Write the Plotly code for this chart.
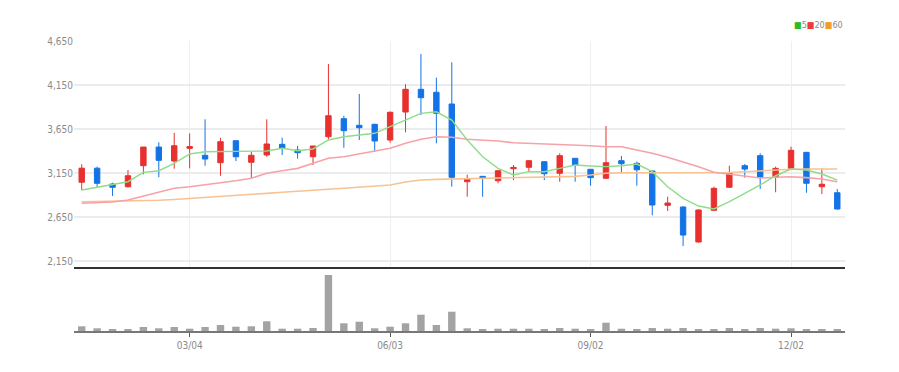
import plotly.graph_objects as go

dates = ["2024-01-15", "2024-01-22", "2024-01-29", "2024-02-05", "2024-02-12", "2024-02-19",
         "2024-02-26", "2024-03-04", "2024-03-11", "2024-03-18", "2024-03-25", "2024-04-01",
         "2024-04-08", "2024-04-15", "2024-04-22", "2024-04-29", "2024-05-06", "2024-05-13",
         "2024-05-20", "2024-05-27", "2024-06-03", "2024-06-10", "2024-06-17", "2024-06-24",
         "2024-07-01", "2024-07-08", "2024-07-15", "2024-07-22", "2024-07-29", "2024-08-05",
         "2024-08-12", "2024-08-19", "2024-08-26", "2024-09-02", "2024-09-09", "2024-09-16",
         "2024-09-23", "2024-09-30", "2024-10-07", "2024-10-14", "2024-10-21", "2024-10-28",
         "2024-11-04", "2024-11-11", "2024-11-18", "2024-11-25", "2024-12-02", "2024-12-09",
         "2024-12-16", "2024-12-23"]

open_ = [3045, 3205, 3025, 2994, 3233, 3445, 3286, 3430, 3351, 3267, 3517, 3272, 3355, 3476, 3411,
         3335, 3562, 3767, 3692, 3703, 3525, 3843, 4101, 4067, 3934, 3051, 3112, 3062, 3199, 3215,
         3278, 3147, 3317, 3192, 3090, 3290, 3260, 3173, 2783, 2764, 2366, 2726, 2988, 3233, 3347,
         3101, 3203, 3385, 2994, 2926]
high = [3250, 3222, 3040, 3184, 3445, 3499, 3606, 3600, 3760, 3551, 3517, 3392, 3760, 3551, 3457,
        3457, 4389, 3801, 4048, 3710, 3850, 4158, 4502, 4233, 4408, 3131, 3112, 3185, 3241, 3295,
        3285, 3374, 3320, 3195, 3684, 3343, 3280, 3175, 2881, 2770, 2735, 2994, 3233, 3252, 3374,
        3222, 3449, 3390, 3203, 2968]
low = [2955, 2988, 2889, 2985, 3135, 3101, 3199, 3203, 3233, 3119, 3286, 3090, 3335, 3355, 3313,
       3241, 3533, 3437, 3525, 3392, 3494, 3612, 3809, 3487, 2994, 2881, 2881, 3033, 3070, 3165,
       3070, 3051, 3051, 3006, 3085, 3147, 3006, 2669, 2718, 2320, 2360, 2720, 2985, 3097, 2968,
       2931, 3200, 2926, 2911, 2735]
close = [3205, 3033, 2988, 3119, 3445, 3294, 3460, 3450, 3309, 3506, 3335, 3351, 3480, 3431, 3381,
         3457, 3801, 3631, 3665, 3514, 3840, 4101, 4006, 3828, 3101, 3085, 3090, 3176, 3214, 3290,
         3142, 3347, 3241, 3097, 3267, 3256, 3187, 2786, 2809, 2445, 2730, 2976, 3153, 3195, 3101,
         3203, 3408, 3033, 3022, 2741]

ma5 = [2957, 2991, 3022, 3051, 3158, 3176, 3260, 3366, 3392, 3392, 3400, 3392, 3400, 3431, 3403,
       3423, 3525, 3562, 3582, 3601, 3676, 3752, 3828, 3846, 3752, 3525, 3335, 3203, 3127, 3165,
       3165, 3203, 3241, 3230, 3222, 3233, 3252, 3165, 2994, 2862, 2775, 2741, 2824, 2919, 3014,
       3119, 3195, 3184, 3139, 3070]
ma20 = [2806, 2809, 2820, 2843, 2889, 2931, 2976, 2994, 3014, 3040, 3062, 3090, 3147, 3176, 3203,
        3260, 3317, 3335, 3366, 3392, 3431, 3487, 3533, 3562, 3556, 3533, 3525, 3514, 3494, 3487,
        3480, 3480, 3468, 3460, 3449, 3449, 3411, 3374, 3328, 3278, 3222, 3158, 3139, 3116, 3093,
        3101, 3108, 3097, 3082, 3051]
ma60 = [2824, 2826, 2828, 2832, 2835, 2840, 2849, 2862, 2874, 2885, 2897, 2908, 2919, 2931, 2940,
        2953, 2965, 2976, 2988, 2999, 3014, 3048, 3070, 3078, 3082, 3085, 3090, 3093, 3097, 3101,
        3105, 3108, 3112, 3127, 3147, 3153, 3153, 3153, 3153, 3153, 3153, 3153, 3156, 3165, 3176,
        3184, 3192, 3195, 3195, 3195]

volume = [470000, 270000, 200000, 130000, 400000, 270000, 400000, 230000, 400000, 600000,
          430000, 470000, 970000, 230000, 230000, 300000, 5600000, 770000, 930000, 270000,
          430000, 770000, 1630000, 600000, 1930000, 270000, 200000, 230000, 230000, 230000,
          130000, 300000, 230000, 200000, 830000, 230000, 200000, 300000, 230000, 300000,
          170000, 200000, 300000, 130000, 300000, 230000, 270000, 200000, 130000, 130000]

y_ticks = [2150, 2650, 3150, 3650, 4150, 4650]
x_ticks = ["2024-03-04", "2024-06-03", "2024-09-02", "2024-12-02"]
x_ticktext = ["03/04", "06/03", "09/02", "12/02"]

RED = "#e8302f"
BLUE = "#1373e6"
FONT = "Liberation Sans Narrow, DejaVu Sans Condensed, Arial Narrow, Roboto, sans-serif"

fig = go.Figure()

fig.add_trace(go.Candlestick(
    x=dates, open=open_, high=high, low=low, close=close,
    increasing=dict(line=dict(color=RED, width=1), fillcolor=RED),
    decreasing=dict(line=dict(color=BLUE, width=1), fillcolor=BLUE),
    whiskerwidth=0, xaxis="x", yaxis="y", showlegend=False, name="price"))

fig.add_trace(go.Scatter(x=dates, y=ma60, mode="lines", line=dict(color="#f8c293", width=1.6),
                         xaxis="x", yaxis="y", showlegend=False, name="60"))
fig.add_trace(go.Scatter(x=dates, y=ma20, mode="lines", line=dict(color="#f5a3a6", width=1.6),
                         xaxis="x", yaxis="y", showlegend=False, name="20"))
fig.add_trace(go.Scatter(x=dates, y=ma5, mode="lines", line=dict(color="#8fdc8a", width=1.4),
                         xaxis="x", yaxis="y", showlegend=False, name="5"))

fig.add_trace(go.Bar(x=dates, y=volume, marker=dict(color="#a3a3a3", line=dict(width=0)),
                     xaxis="x2", yaxis="y2", showlegend=False, name="vol"))

xrange = ["2024-01-11 12:00", "2024-12-26 12:00"]
split = 64 / 290

fig.update_layout(
    width=891, height=364,
    margin=dict(l=66, r=54, t=33, b=41),
    paper_bgcolor="white", plot_bgcolor="white",
    boxgap=0.5, bargap=0.52,
    xaxis=dict(type="date", range=xrange, domain=[0, 1], anchor="y",
               tickvals=x_ticks, showticklabels=False, showgrid=True,
               gridcolor="#efefef", gridwidth=1, ticks="",
               showline=True, linecolor="#333333", linewidth=2,
               rangeslider=dict(visible=False), zeroline=False),
    yaxis=dict(domain=[split, 1], range=[2082, 4650], tickvals=y_ticks,
               tickformat=",", showgrid=True, gridcolor="#ececec", gridwidth=1.5,
               zeroline=False, ticks="", showline=False,
               tickfont=dict(family=FONT, size=10, color="#8a8a8a")),
    xaxis2=dict(type="date", range=xrange, domain=[0, 1], anchor="y2", matches="x",
                tickvals=x_ticks, ticktext=x_ticktext, showgrid=False,
                ticks="outside", ticklen=4, tickcolor="#555555", tickwidth=1,
                showline=True, linecolor="#777777", linewidth=2, zeroline=False,
                tickfont=dict(family=FONT, size=10, color="#8a8a8a")),
    yaxis2=dict(domain=[0, split], range=[0, 5600000 * 64 / 56], showgrid=False,
                showticklabels=False, zeroline=False, ticks="", showline=False),
    annotations=[dict(
        xref="paper", yref="paper", x=1.0, y=1.055, xanchor="right", yanchor="middle",
        showarrow=False,
        text=('<span style="color:#2dbb2d">■</span>5'
              '<span style="color:#ee3a3a">■</span>20'
              '<span style="color:#f39a2c">■</span>60'),
        font=dict(family=FONT, size=9, color="#8a8a8a"))],
)

fig.write_html("out.html")
